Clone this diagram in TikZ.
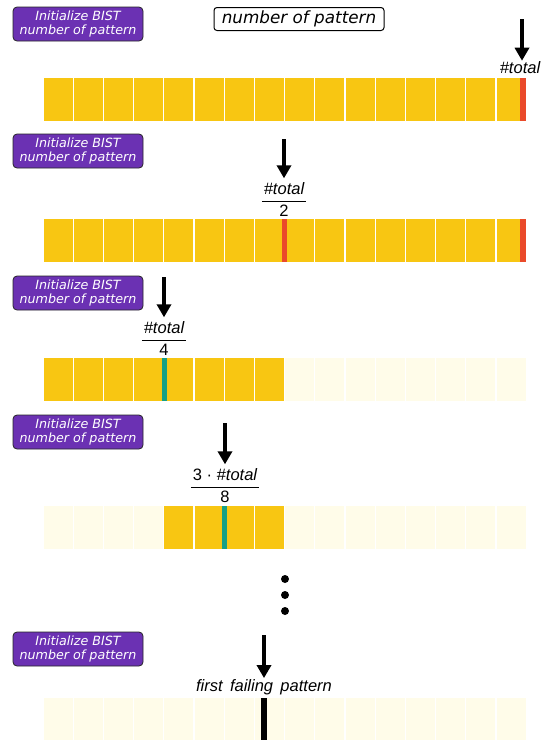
\documentclass[tikz,border=0pt]{standalone}
\usepackage{fontspec}
\setmainfont{Liberation Sans}
\newfontfamily\verdana{DejaVu Sans}
\usetikzlibrary{arrows.meta}
\definecolor{bistpurple}{HTML}{6B31B3}
\definecolor{cellyellow}{HTML}{F8C612}
\definecolor{cellpale}{HTML}{FFFCE9}
\definecolor{failred}{HTML}{EA4A2A}
\definecolor{passteal}{HTML}{16A085}
\tikzset{
 initbox/.style={draw=black!85,fill=bistpurple,rounded corners=4pt,line width=0.8pt,
   text=white,font=\verdana\itshape\fontsize{12.7}{14.5}\selectfont,align=center,
   minimum width=130pt,minimum height=34pt,inner sep=0pt},
 countbox/.style={draw=black,fill=white,rounded corners=3pt,line width=1pt,
   font=\verdana\itshape\fontsize{16.8}{18}\selectfont,
   minimum width=170pt,minimum height=23pt,inner sep=0pt},
 lbl/.style={font=\fontsize{16.5}{19}\selectfont,inner sep=1pt},
 ptr/.style={line width=4pt,-{Triangle[width=14pt,length=13pt]}}
}
\newcommand\fracbox[2]{\setlength\tabcolsep{2pt}\renewcommand\arraystretch{1.12}%
 \begin{tabular}{c}#1\\\hline #2\end{tabular}}
\begin{document}
\begin{tikzpicture}[x=1pt,y=-1pt]
\useasboundingbox (0,0) rectangle (547,740);

% row 1: the whole pattern count
\node[initbox] (init1) at (78,24) {Initialize BIST\\number of pattern};
\node[countbox] (count) at (299,19) {number of pattern};
\foreach \i in {0,...,15} \fill[cellyellow] ({43.6+30.2*\i},78) rectangle ++(29,43);
\fill[failred] (520,78) rectangle (525.5,121);
\coordinate (top1) at (522,19);
\node[lbl] (tot1) at (520,68) {\itshape\#total};
\draw[ptr] (top1) -- (top1 |- tot1.north);

% row 2: half
\node[initbox] (init2) at (78,151) {Initialize BIST\\number of pattern};
\foreach \i in {0,...,15} \fill[cellyellow] ({43.6+30.2*\i},219) rectangle ++(29,43);
\fill[failred] (520,219) rectangle (525.5,262);
\fill[failred] (282,219) rectangle (287,262);
\coordinate (top2) at (284,139);
\node[lbl] (frac2) at (284,201) {\fracbox{\itshape\#total}{2}};
\draw[ptr] (top2) -- (top2 |- frac2.north);

% row 3: quarter
\node[initbox] (init3) at (78,293) {Initialize BIST\\number of pattern};
\foreach \i in {0,...,15} \fill[cellpale] ({43.6+30.2*\i},358) rectangle ++(29,43);
\foreach \i in {0,...,7} \fill[cellyellow] ({43.6+30.2*\i},358) rectangle ++(29,43);
\fill[passteal] (161.5,358) rectangle (166.5,401);
\coordinate (top3) at (164,277);
\node[lbl] (frac3) at (164,340) {\fracbox{\itshape\#total}{4}};
\draw[ptr] (top3) -- (top3 |- frac3.north);

% row 4: three eighths
\node[initbox] (init4) at (78,432) {Initialize BIST\\number of pattern};
\foreach \i in {0,...,15} \fill[cellpale] ({43.6+30.2*\i},506) rectangle ++(29,43);
\foreach \i in {4,...,7} \fill[cellyellow] ({43.6+30.2*\i},506) rectangle ++(29,43);
\fill[passteal] (221.5,506) rectangle (226.5,549);
\coordinate (top4) at (225,423);
\node[lbl] (frac4) at (225,487) {\fracbox{3 · \itshape\#total}{8}};
\draw[ptr] (top4) -- (top4 |- frac4.north);

% dots
\foreach \y in {579,595,611} \fill (285,\y) circle (4);

% row 5: result
\node[initbox] (init5) at (78,649) {Initialize BIST\\number of pattern};
\foreach \i in {0,...,15} \fill[cellpale] ({43.6+30.2*\i},698) rectangle ++(29,42);
\fill (261,698) rectangle (267,740);
\coordinate (top5) at (264,635);
\node[lbl] (fail) at (264,687) {\itshape first\, failing\, pattern};
\draw[ptr] (top5) -- (top5 |- fail.north);
\end{tikzpicture}
\end{document}
